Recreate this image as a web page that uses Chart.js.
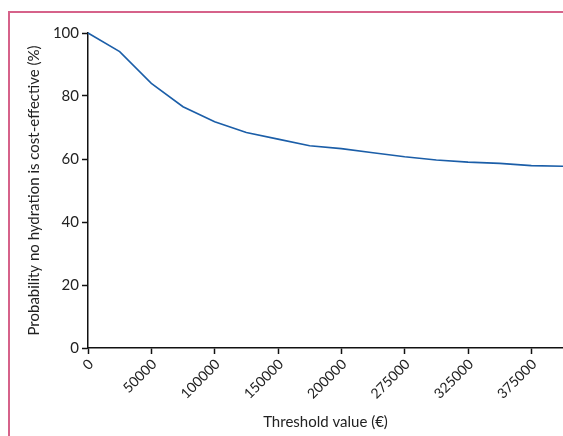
<!DOCTYPE html>
<html>
<head>
<meta charset="utf-8">
<script src="https://cdn.jsdelivr.net/npm/chart.js@4/dist/chart.umd.min.js"></script>
<style>
  html, body { margin: 0; padding: 0; background: #fff; }
  #wrap { position: relative; width: 563px; height: 436px; }
  #frame { position: absolute; left: 8px; top: 11px; width: 600px; height: 500px;
           border-top: 2px solid #d6628a; border-left: 2px solid #d6628a; }
  canvas { position: absolute; left: 0; top: 0; }
</style>
</head>
<body>
<div id="wrap">
  <div id="frame"></div>
  <canvas id="myChart" width="563" height="436"></canvas>
</div>
<script>
// Umbrales (€) y probabilidad de que "no hidratación" sea coste-efectiva
const thresholds = [0, 25000, 50000, 75000, 100000, 125000, 150000, 175000,
                    200000, 250000, 275000, 300000, 325000, 350000, 375000, 400000];
const probability = [100, 94.1, 84.0, 76.6, 71.8, 68.4, 66.3, 64.2,
                     63.3, 62.0, 60.7, 59.7, 59.0, 58.6, 57.9, 57.7];
const yTicks = [0, 20, 40, 60, 80, 100];

const fontFam = "Lato, 'Open Sans', sans-serif";

let ctx = document.getElementById('myChart');
let chart = new Chart(ctx, {
  type: 'line',
  data: {
    labels: thresholds.map(String),
    datasets: [{
      data: probability,
      borderColor: '#1b5ea8',
      borderWidth: 1.6,
      pointRadius: 0,
      tension: 0,
      fill: false
    }]
  },
  options: {
    responsive: false,
    animation: false,
    clip: false,
    layout: { padding: { top: 33, right: 0, bottom: 0, left: 0 } },
    plugins: { legend: { display: false }, tooltip: { enabled: false } },
    scales: {
      x: {
        type: 'category',
        offset: false,
        afterFit: (s) => { s.height = 88; s.paddingRight = 0; s.paddingLeft = 0; },
        grid: {
          drawOnChartArea: false,
          drawTicks: true,
          tickLength: 6,
          tickWidth: 1.5,
          color: (c) => (c.index % 2 === 0 ? '#111' : 'rgba(0,0,0,0)')
        },
        border: { display: true, color: '#111', width: 1.5 },
        ticks: {
          autoSkip: false,
          minRotation: 45,
          maxRotation: 45,
          padding: 2,
          labelOffset: 3,
          color: '#222',
          font: { family: fontFam, size: 14 },
          callback: function (val, i) {
            return i % 2 === 0 ? this.getLabelForValue(val) : '';
          }
        },
        title: {
          display: true,
          text: 'Threshold value (€)',
          color: '#222',
          font: { family: fontFam, size: 15 },
          padding: { top: 0, bottom: 5 }
        }
      },
      y: {
        min: 0,
        max: 100,
        afterFit: (s) => { s.width = 88; },
        afterBuildTicks: (s) => { s.ticks = yTicks.map(v => ({ value: v })); },
        grid: {
          drawOnChartArea: false,
          drawTicks: true,
          tickLength: 6,
          tickWidth: 1.5,
          color: '#111'
        },
        border: { display: true, color: '#111', width: 1.5 },
        ticks: {
          padding: 3,
          color: '#222',
          font: { family: fontFam, size: 15 }
        },
        title: {
          display: true,
          text: 'Probability no hydration is cost-effective (%)',
          color: '#222',
          font: { family: fontFam, size: 15 },
          padding: { top: 25, bottom: 0 }
        }
      }
    }
  }
});
</script>
</body>
</html>
